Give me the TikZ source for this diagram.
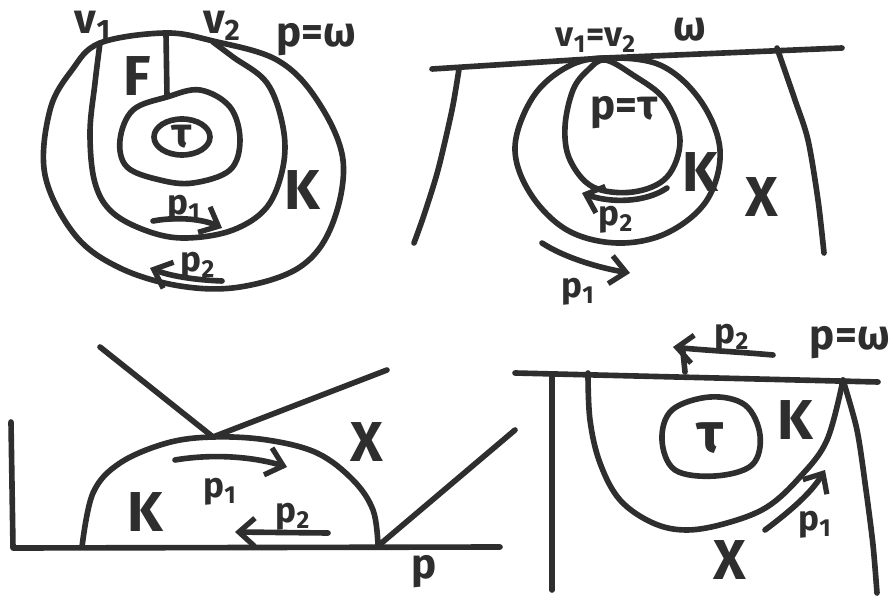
\documentclass[tikz,border=0pt]{standalone}
\usepackage{fontspec}
\setmainfont{Fira Sans}
\usetikzlibrary{arrows.meta}
\definecolor{ink}{HTML}{2E2E2E}
\newcommand{\lowix}[1]{\textsubscript{#1}}
\begin{document}
\begin{tikzpicture}[x=0.02cm,y=-0.02cm,
  pen/.style={draw=ink,line width=3.2pt,line cap=round,line join=round},
  arr/.style={pen,-{Straight Barb[length=9pt,width=16pt,line width=3pt]}},
  big/.style={text=ink,inner sep=0pt,font=\fontsize{32}{32}\selectfont\bfseries},
  mid/.style={text=ink,inner sep=0pt,font=\fontsize{24}{24}\selectfont\bfseries},
  sml/.style={text=ink,inner sep=0pt,font=\fontsize{20}{20}\selectfont\bfseries}]
\useasboundingbox (0,0) rectangle (893,601);
\fill[white] (0,0) rectangle (893,601);

% ---------- panel 1 (top left) ----------
\draw[pen] plot[smooth cycle,tension=0.6] coordinates {(100,43) (165,33) (213,41) (277,60) (317,100) (343,160) (332,225) (300,267) (240,287) (180,286) (120,268) (75,235) (45,175) (50,110) (72,70)};
\draw[pen] plot[smooth,tension=0.6] coordinates {(100,43) (95,83) (90,133) (95,183) (113,213) (150,232) (187,238) (233,230) (267,207) (283,167) (283,127) (267,83) (233,57) (213,42)};
\draw[pen] plot[smooth cycle,tension=0.6] coordinates {(167,97) (200,90) (230,107) (240,140) (230,170) (193,183) (160,180) (127,167) (120,140) (133,110)};
\coordinate (t1) at (166,34); \coordinate (t1b) at (167,96);
\draw[pen] (t1) -- (t1b);
\draw[pen] (182,137) ellipse [x radius=28, y radius=18];
\node[mid] (tau1) at (182,137) {τ};
\node[mid] (v1a) at (93,26) {v\lowix{1}};
\node[mid] (v2a) at (222,26) {v\lowix{2}};
\node[mid] (pw1) at (316,40) {p=ω};
\node[big] (F1) at (137,76) {F};
\node[big] (K1) at (302,190) {K};
\coordinate (a1s) at (153,221); \coordinate (a1e) at (222,228);
\draw[arr] (a1s) .. controls (180,216) and (205,220) .. (a1e);
\node[sml] (p1a) at (184,209) {p\lowix{1}};
\coordinate (a2s) at (222,281); \coordinate (a2e) at (150,268);
\draw[arr] (a2s) .. controls (195,280) and (170,276) .. (a2e);
\node[sml] (p2a) at (198,266) {p\lowix{2}};

% ---------- panel 2 (top right) ----------
\coordinate (w2l) at (432,69); \coordinate (w2r) at (842,48);
\draw[pen] (w2l) -- (605,58) -- (w2r);
\draw[pen] plot[smooth] coordinates {(459,69) (452,110) (438,170) (424,215) (414,243)};
\draw[pen] plot[smooth] coordinates {(777,48) (795,100) (808,140) (818,200) (824,253)};
\draw[pen] plot[smooth cycle,tension=0.6] coordinates {(605,58) (660,65) (700,100) (720,150) (707,200) (667,233) (617,243) (567,230) (530,193) (515,147) (533,97) (567,67)};
\draw[pen] plot[smooth cycle,tension=0.6] coordinates {(605,60) (633,75) (665,100) (680,140) (667,177) (633,192) (593,187) (570,160) (565,127) (573,90) (588,70)};
\node[sml] (v12) at (596,40) {v\lowix{1}=v\lowix{2}};
\node[mid] (w2) at (690,30) {ω};
\node[mid] (pt2) at (624,113) {p=τ};
\node[big] (K2) at (700,172) {K};
\node[big] (X2) at (762,197) {X};
\coordinate (b2s) at (667,188); \coordinate (b2e) at (582,193);
\draw[arr] (b2s) .. controls (645,203) and (610,203) .. (b2e);
\node[sml] (p2b) at (616,220) {p\lowix{2}};
\coordinate (b1s) at (542,243); \coordinate (b1e) at (630,273);
\draw[arr] (b1s) .. controls (565,258) and (600,268) .. (b1e);
\node[sml] (p1b) at (578,292) {p\lowix{1}};

% ---------- panel 3 (bottom left) ----------
\coordinate (c3l) at (13,548); \coordinate (c3r) at (500,547);
\draw[pen] (11,422) -- (c3l) -- (c3r);
\draw[pen] plot[smooth,tension=0.6] coordinates {(82,547) (93,493) (120,463) (167,443) (213,437) (267,440) (317,453) (353,480) (373,510) (378,545)};
\coordinate (vtop) at (213,437);
\draw[pen] (100,347) -- (vtop) -- (387,370);
\draw[pen] (378,546) -- (515,430);
\node[big] (K3) at (145,512) {K};
\node[big] (X3) at (367,442) {X};
\coordinate (c1s) at (175,460); \coordinate (c1e) at (287,467);
\draw[arr] (c1s) .. controls (210,454) and (250,456) .. (c1e);
\node[sml] (p1c) at (220,492) {p\lowix{1}};
\coordinate (c2s) at (328,533); \coordinate (c2e) at (235,532);
\draw[arr] (c2s) -- (c2e);
\node[sml] (p2c) at (293,517) {p\lowix{2}};
\node[mid] (p3) at (424,572) {p};

% ---------- panel 4 (bottom right) ----------
\coordinate (d4l) at (515,373); \coordinate (d4r) at (878,382);
\draw[pen] (d4l) -- (d4r);
\draw[pen] (552,375) -- (552,590);
\draw[pen] plot[smooth] coordinates {(843,380) (857,430) (866,490) (873,545) (877,593)};
\draw[pen] plot[smooth,tension=0.6] coordinates {(588,373) (590,420) (600,463) (620,500) (653,523) (687,530) (727,523) (767,507) (800,477) (827,440) (843,380)};
\draw[pen] plot[smooth cycle,tension=0.6] coordinates {(710,397) (745,405) (760,435) (752,465) (715,476) (675,470) (662,440) (672,410)};
\node[big] (tau4) at (710,438) {τ};
\node[big] (K4) at (795,420) {K};
\node[big] (X4) at (730,560) {X};
\coordinate (e1s) at (765,530); \coordinate (e1e) at (825,470);
\draw[arr] (e1s) .. controls (785,515) and (810,495) .. (e1e);
\node[sml] (p1d) at (815,525) {p\lowix{1}};
\coordinate (e2s) at (773,355); \coordinate (e2e) at (673,347);
\draw[arr] (e2s) .. controls (740,352) and (700,350) .. (e2e);
\draw[pen] (683,352) -- (685,372);
\node[sml] (p2d) at (732,338) {p\lowix{2}};
\node[mid,anchor=east] (pw4) at (890,343) {p=ω};
\end{tikzpicture}
\end{document}
